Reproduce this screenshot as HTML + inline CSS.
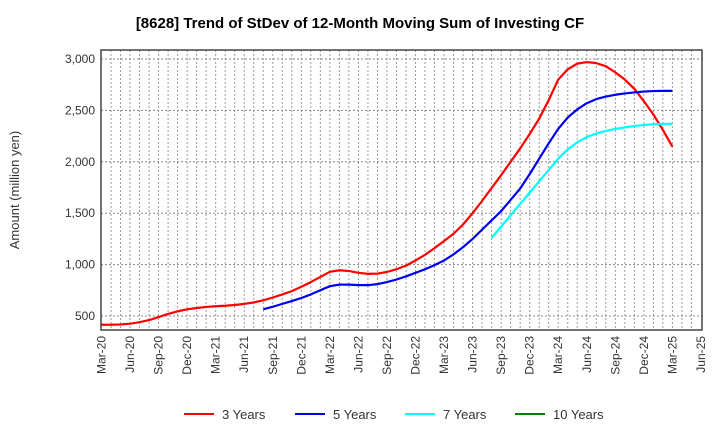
<!DOCTYPE html>
<html><head><meta charset="utf-8"><style>
body{margin:0;background:#fff;font-family:"Liberation Sans",sans-serif;}
</style></head><body>
<svg id="c" width="720" height="440" xmlns="http://www.w3.org/2000/svg">
<text x="360" y="28" text-anchor="middle" font-size="15" font-weight="bold" fill="#000">[8628]  Trend of StDev of 12-Month Moving Sum of Investing CF</text>
<text transform="translate(19,190) rotate(-90)" text-anchor="middle" font-size="13" fill="#333">Amount (million yen)</text>
<g id="grid"></g><g id="series"></g><g id="axes"></g><g id="legend"></g>
</svg>
<script>
const xTickLabels=["Mar-20","Jun-20","Sep-20","Dec-20","Mar-21","Jun-21","Sep-21","Dec-21","Mar-22","Jun-22","Sep-22","Dec-22","Mar-23","Jun-23","Sep-23","Dec-23","Mar-24","Jun-24","Sep-24","Dec-24","Mar-25","Jun-25"];
const yTicks=[500,1000,1500,2000,2500,3000];
const s3Start=0;
const s3=[415,415,418,425,440,460,490,520,545,565,578,588,595,600,607,618,632,653,680,710,742,785,830,880,930,945,938,920,910,912,928,955,990,1040,1095,1160,1230,1300,1390,1500,1620,1745,1870,2000,2130,2270,2420,2600,2800,2900,2955,2970,2960,2930,2870,2800,2710,2590,2460,2310,2147];
const s5Start=17;
const s5=[565,590,618,645,675,710,750,790,805,805,800,800,810,830,855,885,920,955,995,1040,1100,1170,1250,1340,1430,1520,1630,1740,1880,2030,2180,2320,2430,2510,2570,2610,2635,2652,2665,2675,2683,2688,2690,2690];
const s7Start=41;
const s7=[1260,1370,1480,1590,1700,1810,1920,2030,2120,2190,2240,2275,2300,2320,2335,2348,2358,2365,2368,2370];
const s10Start=0;
const s10=[];
const L=101,R=702,T=50,B=330;
const X=m=>101.5+m*9.515;
const Y=v=>316-(v-500)*0.1028;
const NS="http://www.w3.org/2000/svg";
function mk(p,t,a){const e=document.createElementNS(NS,t);for(const k in a)e.setAttribute(k,a[k]);p.appendChild(e);return e;}
const g=document.getElementById('grid');
for(let m=1;m<63;m++){const l=mk(g,'line',{x1:X(m),x2:X(m),y1:T,y2:B,stroke:'#999','stroke-dasharray':'2,2','stroke-width':1});

}
const ax=document.getElementById('axes');
yTicks.forEach(v=>{const l=mk(g,'line',{x1:L,x2:R,y1:Y(v),y2:Y(v),stroke:'#888','stroke-dasharray':'2,2','stroke-width':1});


const t=mk(ax,'text',{x:L-6,y:Y(v)+4,'text-anchor':'end','font-size':12,fill:'#333'});t.textContent=v.toLocaleString('en-US');

});
xTickLabels.forEach((s,i)=>{const x=X(i*3);const t=mk(ax,'text',{transform:`translate(${x+4},${B+6}) rotate(-90)`,'text-anchor':'end','font-size':12,fill:'#333'});t.textContent=s;

});
const fr=mk(ax,'rect',{x:L,y:T,width:R-L,height:B-T,fill:'none',stroke:'#444','stroke-width':1.5});


const sg=document.getElementById('series');
function line(arr,st,col,name){if(!arr.length)return;const p=mk(sg,'polyline',{points:arr.map((v,i)=>X(st+i)+','+Y(v)).join(' '),fill:'none',stroke:col,'stroke-width':2.2,'stroke-linejoin':'round'});

}
line(s3,s3Start,'#ff0000','series-3-years');
line(s5,s5Start,'#0000ee','series-5-years');
line(s7,s7Start,'#00ffff','series-7-years');
line(s10,s10Start,'#008000','series-10-years');
const lg=document.getElementById('legend');
[['3 Years','#ff0000',184],['5 Years','#0000ee',295],['7 Years','#00ffff',405],['10 Years','#008000',515]].forEach(([n,c,x])=>{
const e=mk(lg,'g',{});


mk(e,'line',{x1:x,x2:x+30,y1:414,y2:414,stroke:c,'stroke-width':2});
const t=mk(e,'text',{x:x+38,y:419,'font-size':13,fill:'#333'});t.textContent=n;});
</script>
</body></html>
